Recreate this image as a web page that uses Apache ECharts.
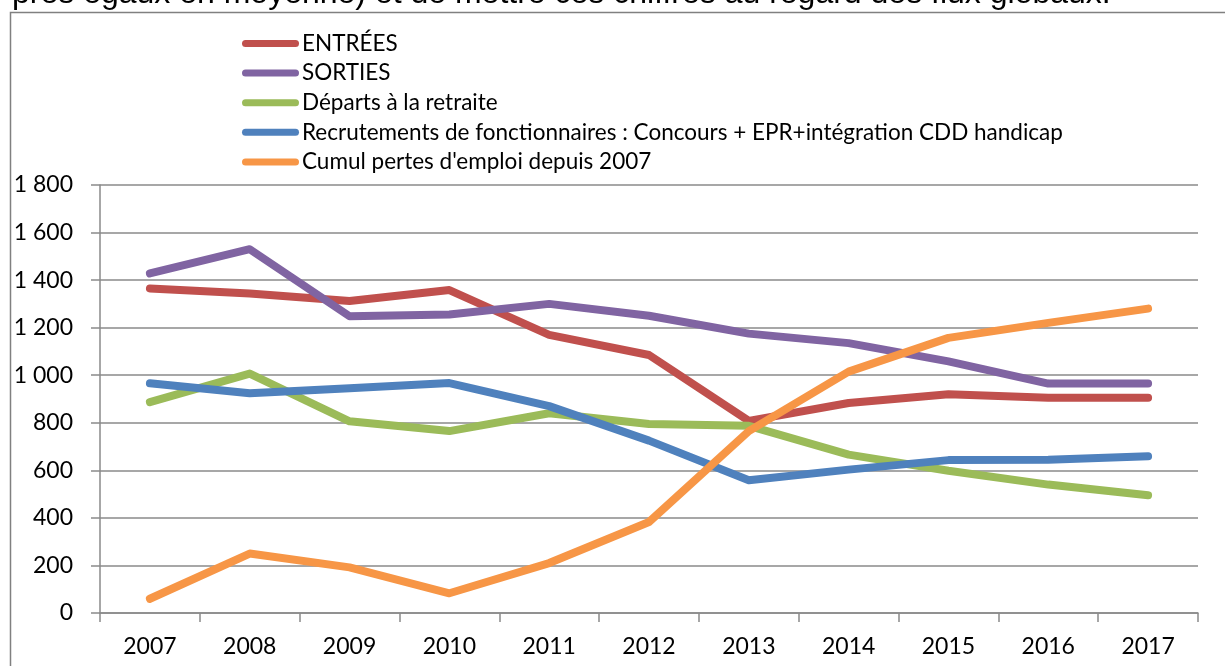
<!DOCTYPE html>
<html>
<head>
<meta charset="utf-8">
<script src="https://cdn.jsdelivr.net/npm/echarts@6/dist/echarts.min.js"></script>
<style>
html,body{margin:0;padding:0;background:#fff;}
#c{width:1225px;height:666px;}
</style>
</head>
<body>
<div id="c"></div>
<script>
const categories = ['2007','2008','2009','2010','2011','2012','2013','2014','2015','2016','2017'];
const seriesNames = ['ENTRÉES','SORTIES','Départs à la retraite','Recrutements de fonctionnaires : Concours + EPR+intégration CDD handicap',"Cumul pertes d'emploi depuis 2007"];
const entrees = [1365, 1344, 1312, 1358, 1170, 1085, 808, 883, 920, 905, 905];
const sorties = [1428, 1530, 1248, 1255, 1300, 1250, 1175, 1135, 1058, 965, 965];
const departs = [887, 1007, 806, 765, 840, 795, 787, 666, 598, 540, 495];
const recrutements = [966, 924, 945, 967, 870, 725, 558, 603, 643, 645, 659];
const cumul = [60, 250, 192, 83, 210, 383, 765, 1015, 1157, 1220, 1280];
const yTicks = [0, 200, 400, 600, 800, 1000, 1200, 1400, 1600, 1800];
const topText = 'près égaux en moyenne) et de mettre ces chiffres au regard des flux globaux.';

const colors = ['#C0504D', '#8064A2', '#9BBB59', '#4F81BD', '#F79646'];
const values = [entrees, sorties, departs, recrutements, cumul];
const gray = '#8a8a8a';
const font = 'Lato, "Open Sans", sans-serif';

const chart = echarts.init(document.getElementById('c'), null, {renderer: 'canvas'});
const capsule = 'path://M3.5,0 H53.5 A3.5,3.5 0 0 1 53.5,7 H3.5 A3.5,3.5 0 0 1 3.5,0 Z';

chart.setOption({
  animation: false,
  backgroundColor: '#ffffff',
  textStyle: {fontFamily: font},
  graphic: [
    {type: 'rect', shape: {x: 10.5, y: 12.5, width: 1400, height: 800}, style: {fill: 'none', stroke: '#808080', lineWidth: 1.5}, silent: true},
    {type: 'text', left: 12, top: -22, style: {text: topText, font: '32px "Liberation Sans", Arial, sans-serif', fill: '#000'}, silent: true}
  ],
  legend: {
    orient: 'vertical',
    left: 242,
    top: 32,
    padding: 0,
    itemWidth: 57,
    itemHeight: 7,
    itemGap: 6.6,
    icon: capsule,
    selectedMode: false,
    textStyle: {fontSize: 22.5, lineHeight: 22, color: '#000', fontFamily: font, padding: [0,0,0,-2]},
    data: seriesNames
  },
  grid: {left: 100, right: 27, top: 185, bottom: 53, containLabel: false},
  xAxis: {
    type: 'category',
    data: categories,
    boundaryGap: true,
    axisLine: {lineStyle: {color: gray, width: 1.5}},
    axisTick: {show: true, length: 9, alignWithLabel: false, lineStyle: {color: gray, width: 1.5}},
    axisLabel: {color: '#000', fontSize: 23, margin: 22, fontFamily: font},
    splitLine: {show: false}
  },
  yAxis: {
    type: 'value',
    min: yTicks[0],
    max: yTicks[yTicks.length - 1],
    interval: yTicks[1] - yTicks[0],
    axisLine: {show: true, lineStyle: {color: gray, width: 1.5}},
    axisTick: {show: true, length: 9, lineStyle: {color: gray, width: 1.5}},
    axisLabel: {
      color: '#000', fontSize: 23, margin: 27, fontFamily: font,
      formatter: v => String(v).replace(/\B(?=(\d{3})+(?!\d))/g, ' ')
    },
    splitLine: {show: true, lineStyle: {color: gray, width: 1.5}}
  },
  series: seriesNames.map((name, i) => ({
    name: name,
    type: 'line',
    data: values[i],
    showSymbol: false,
    symbol: 'none',
    color: colors[i],
    itemStyle: {color: colors[i]},
    lineStyle: {color: colors[i], width: 8, cap: 'round', join: 'round'},
    z: 3
  }))
});
</script>
</body>
</html>
